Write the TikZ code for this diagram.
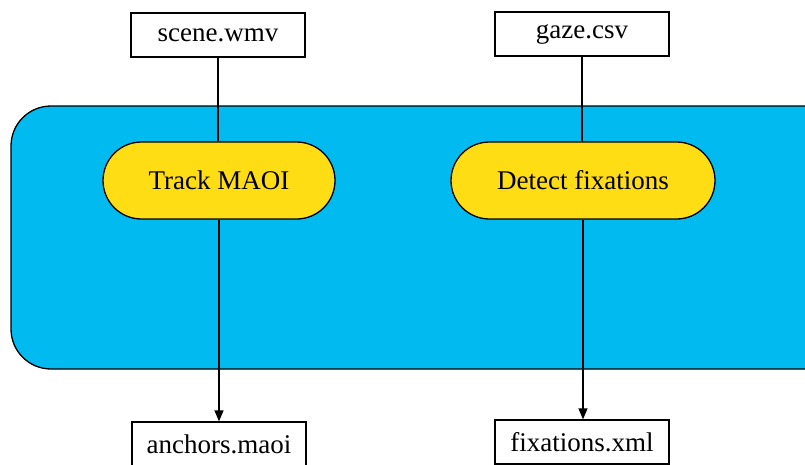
\documentclass[tikz,border=0pt]{standalone}
\usepackage{fontspec}
\setmainfont{Liberation Serif}
\usetikzlibrary{shapes.misc,arrows.meta}
\definecolor{panelblue}{RGB}{0,186,240}
\definecolor{stepyellow}{RGB}{255,221,21}
\tikzset{
  filebox/.style={draw=black, line width=1.3pt, fill=white, minimum width=174pt,
    minimum height=44pt, inner sep=0pt, font=\fontsize{27}{32}\selectfont},
  process/.style={rounded rectangle, draw=black, line width=1.3pt, fill=stepyellow,
    minimum height=77pt, inner sep=0pt, font=\fontsize{27}{32}\selectfont},
  flow/.style={line width=1.3pt},
  flowarrow/.style={line width=1.3pt, -{Triangle[length=11pt,width=9pt]}}
}
\begin{document}
\begin{tikzpicture}[x=1pt, y=-1pt]
  \clip (0,0) rectangle (805,464);
  \fill[white] (0,0) rectangle (805,464);
  % processing panel
  \draw[line width=1.3pt, fill=panelblue, rounded corners=40pt] (11,106) rectangle (860,369);
  % input files
  \node[filebox] (scene) at (218,35) {scene.wmv};
  \node[filebox] (gaze) at (582,34) {gaze.csv};
  % processing steps
  \node[process, minimum width=232pt] (track) at (219,180.5) {Track MAOI};
  \node[process, minimum width=264pt] (detect) at (583,180.5) {Detect fixations};
  % output files
  \node[filebox] (anchors) at (219,444) {anchors.maoi};
  \node[filebox] (fix) at (582,442) {fixations.xml};
  % connectors
  \draw[flow] (scene.south) -- (scene.south |- track.north);
  \draw[flow] (gaze.south) -- (gaze.south |- detect.north);
  \draw[flowarrow] (track.south) -- (anchors.north);
  \draw[flowarrow] (detect.south) -- (detect.south |- fix.north);
\end{tikzpicture}
\end{document}
